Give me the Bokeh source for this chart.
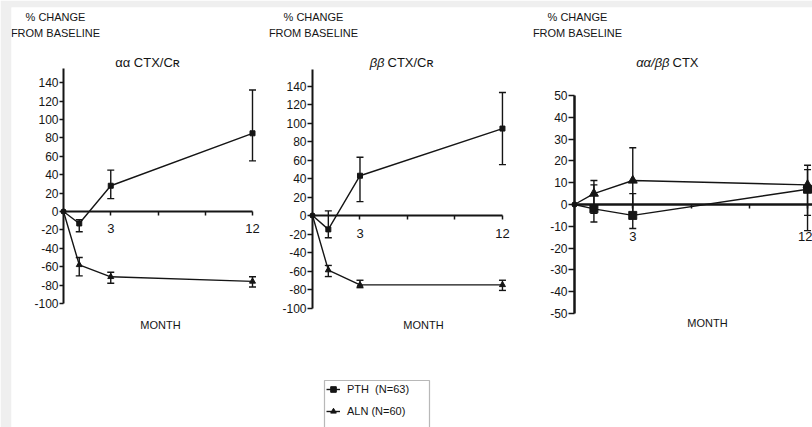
from bokeh.plotting import figure
from bokeh.models import (Range1d, LinearAxis, FixedTicker, Whisker, TeeHead,
                          ColumnDataSource, Label, Legend, LegendItem, BoxAnnotation)
from bokeh.embed import file_html
from bokeh.resources import INLINE

# ---------------- data ----------------
months = [0, 1, 3, 12]
x_tick_labels = [3, 12]
x_minor_ticks = [6, 9]
y_ticks_ctx = list(range(-100, 141, 20))
y_ticks_ratio = list(range(-50, 51, 10))

# alpha-alpha CTX/Cr
aa_pth = [0, -13, 28, 85]
aa_pth_lo = [0, -22, 14, 55]
aa_pth_hi = [0, -9, 45, 132]
aa_aln = [0, -58, -71, -76]
aa_aln_lo = [0, -70, -78, -82]
aa_aln_hi = [0, -50, -66, -71]

# beta-beta CTX/Cr
bb_pth = [0, -15, 43, 94]
bb_pth_lo = [0, -24, 15, 55]
bb_pth_hi = [0, 5, 63, 133]
bb_aln = [0, -59, -75, -75]
bb_aln_lo = [0, -66, -78, -81]
bb_aln_hi = [0, -54, -70, -70]

# alpha-alpha / beta-beta CTX
r_pth = [0, -2, -5, 7]
r_pth_lo = [0, -8, -11, -12]
r_pth_hi = [0, 9, 5, 16]
r_aln = [0, 5, 11, 9]
r_aln_lo = [0, -4, -4, -5]
r_aln_hi = [0, 11, 26, 18]

pth_label = "PTH  (N=63)"
aln_label = "ALN (N=60)"

# ---------------- layout ----------------
W, H = 812, 427
FONT = "Liberation Sans"
INK = "#151515"

p = figure(width=W, height=H, x_range=Range1d(11, W), y_range=Range1d(H, 7),
           x_axis_type=None, y_axis_type=None, toolbar_location=None,
           output_backend="svg", min_border_left=11, min_border_top=7,
           min_border_right=0, min_border_bottom=0,
           border_fill_color="#efefef", background_fill_color="white",
           outline_line_color=None)

# pixel anchors per panel: (x of month 0, px per month, y of value 0, px per unit)
panels = {
    "1": dict(x0=63, mx=15.75, y0=211, uy=0.92),
    "2": dict(x0=312, mx=15.83, y0=215, uy=0.925),
    "3": dict(x0=574, mx=19.42, y0=204, uy=2.18),
}
for k, a in panels.items():
    p.extra_x_ranges["x" + k] = Range1d((11 - a["x0"]) / a["mx"], (W - a["x0"]) / a["mx"])
    p.extra_y_ranges["y" + k] = Range1d((a["y0"] - H) / a["uy"], (a["y0"] - 7) / a["uy"])


def add_axes(k, yticks, ybounds, xbounds, xstandoff, ytick_out, ywidth, xwidth):
    xa = LinearAxis(x_range_name="x" + k, y_range_name="y" + k, fixed_location=0,
                    ticker=FixedTicker(ticks=x_tick_labels, minor_ticks=x_minor_ticks),
                    bounds=xbounds, axis_line_width=xwidth, axis_line_color=INK,
                    major_tick_in=0, major_tick_out=4, minor_tick_in=0, minor_tick_out=4,
                    major_tick_line_color=INK, minor_tick_line_color=INK,
                    major_tick_line_width=1.5, minor_tick_line_width=1.5,
                    major_label_standoff=xstandoff,
                    major_label_text_font=FONT, major_label_text_font_size="13px",
                    major_label_text_color=INK)
    p.add_layout(xa, "below")
    ya = LinearAxis(x_range_name="x" + k, y_range_name="y" + k, fixed_location=0,
                    ticker=FixedTicker(ticks=yticks, minor_ticks=[]),
                    bounds=ybounds, axis_line_width=ywidth, axis_line_color=INK,
                    major_tick_in=0, major_tick_out=ytick_out,
                    major_tick_line_color=INK, major_tick_line_width=1.5,
                    major_label_standoff=1,
                    major_label_overrides={t: str(t) for t in yticks},
                    major_label_text_font=FONT, major_label_text_font_size="12px",
                    major_label_text_color=INK)
    p.add_layout(ya, "left")


add_axes("1", y_ticks_ctx, (-100, 155), (0, 12), 8, 4, 2, 2)
add_axes("2", y_ticks_ctx, (-100, 158), (0, 12), 9, 5, 2, 2)
add_axes("3", y_ticks_ratio, (-50, 50), (0, 12.4), 23, 6, 2.5, 2.5)


def add_series(k, vals, lo, hi, marker, size):
    xr, yr = "x" + k, "y" + k
    ln = p.line(months, vals, x_range_name=xr, y_range_name=yr,
                line_color=INK, line_width=1.4)
    sc = p.scatter(months[1:], vals[1:], x_range_name=xr, y_range_name=yr,
                   marker=marker, size=size, fill_color=INK, line_color=INK)
    p.scatter(months[:1], vals[:1], x_range_name=xr, y_range_name=yr,
              marker="circle", size=5, fill_color=INK, line_color=INK)
    src = ColumnDataSource(dict(base=months[1:], lower=lo[1:], upper=hi[1:]))
    w = Whisker(source=src, base="base", lower="lower", upper="upper",
                dimension="height", x_range_name=xr, y_range_name=yr,
                line_color=INK, line_width=1.4,
                lower_head=TeeHead(size=7, line_color=INK, line_width=1.4),
                upper_head=TeeHead(size=7, line_color=INK, line_width=1.4))
    p.add_layout(w)
    return ln, sc


l1p, s1p = add_series("1", aa_pth, aa_pth_lo, aa_pth_hi, "square", 5)
l1a, s1a = add_series("1", aa_aln, aa_aln_lo, aa_aln_hi, "triangle", 6)
add_series("2", bb_pth, bb_pth_lo, bb_pth_hi, "square", 5)
add_series("2", bb_aln, bb_aln_lo, bb_aln_hi, "triangle", 6)
add_series("3", r_pth, r_pth_lo, r_pth_hi, "square", 8)
add_series("3", r_aln, r_aln_lo, r_aln_hi, "triangle", 9)


def text(x, y, t, size="11px", align="center", style="normal"):
    p.add_layout(Label(x=x, y=y, text=t, text_font=FONT, text_font_size=size,
                       text_align=align, text_baseline="middle",
                       text_font_style=style, text_color=INK))


for cx in (55, 313, 577):
    text(cx, 16, "% CHANGE", "11px")
    text(cx, 32, "FROM BASELINE", "11px")

text(147, 62, "αα CTX/Cʀ", "13px")
text(384, 62, "ββ", "13px", "right", "italic")
text(387, 62, "CTX/Cʀ", "13px", "left")
text(669, 62, "αα/ββ", "13px", "right", "italic")
text(672, 62, "CTX", "13px", "left")

for cx, cy in ((160, 324), (423, 324), (707, 322)):
    text(cx, cy, "MONTH", "11px")

# legend
p.add_layout(BoxAnnotation(left=324, right=429, top=380, bottom=440,
                           fill_color=None, line_color=INK, line_width=1.2))
leg = Legend(items=[LegendItem(label=pth_label, renderers=[l1p, s1p]),
                    LegendItem(label=aln_label, renderers=[l1a, s1a])],
             location=(315, H - 420), padding=0, spacing=4,
             label_height=18, glyph_height=18, glyph_width=14, label_standoff=7,
             label_text_font=FONT, label_text_font_size="11px", label_text_color=INK,
             border_line_color=None, background_fill_alpha=0, margin=0)
p.add_layout(leg)

open("out.html", "w").write(file_html(p, INLINE))
